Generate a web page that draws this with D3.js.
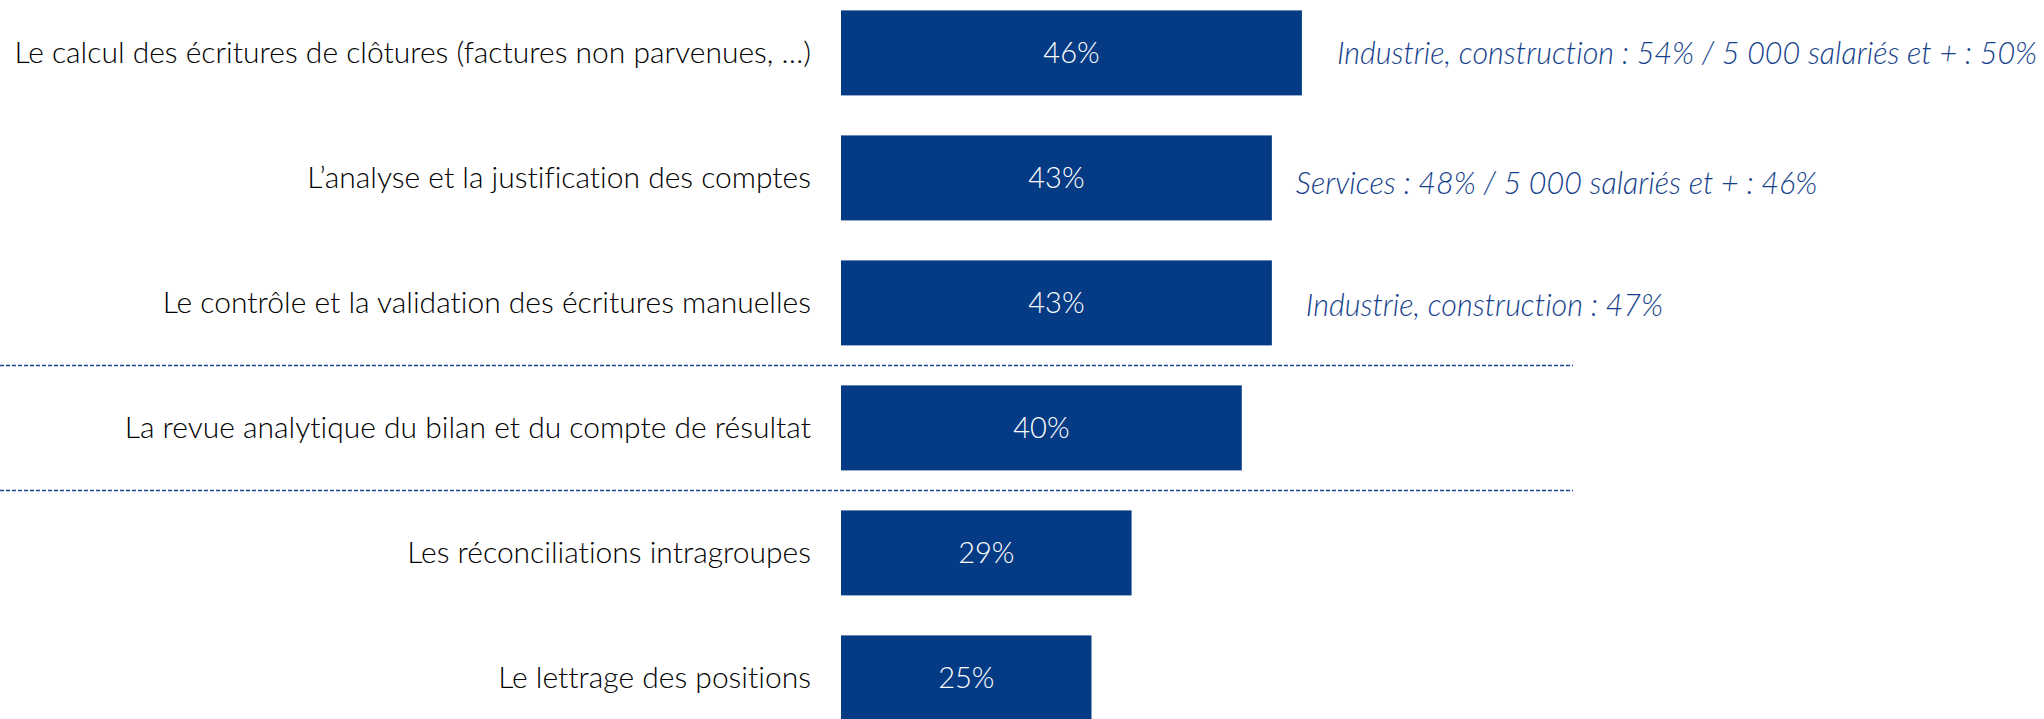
<!DOCTYPE html>
<html>
<head>
<meta charset="utf-8">
<script src="https://cdn.jsdelivr.net/npm/d3@7"></script>
<style>
    body { margin: 0; background: #fff; }
    text { font-variant-ligatures: none; }
    .label { font-family: Lato, sans-serif; font-weight: 300; fill: #000; }
    .value { font-family: Lato, sans-serif; font-weight: 300; fill: #fff; }
    .note { font-family: Lato, sans-serif; font-weight: 300; font-style: italic; fill: #153f8c; }
</style>
</head>
<body>
<script>
// horizontal bar chart, french survey on closing tasks

var categories = [
    "Le calcul des écritures de clôtures (factures non parvenues, …)",
    "L’analyse et la justification des comptes",
    "Le contrôle et la validation des écritures manuelles",
    "La revue analytique du bilan et du compte de résultat",
    "Les réconciliations intragroupes",
    "Le lettrage des positions"
];
var values = [46, 43, 43, 40, 29, 25];
var notes = [
    "Industrie, construction : 54% / 5 000 salariés et + : 50%",
    "Services : 48% / 5 000 salariés et + : 46%",
    "Industrie, construction : 47%",
    "", "", ""
];
var noteOffsets = [35, 24, 34, 0, 0, 0]; //gap after bar end, px
var noteShift = [0, 5, 2, 0, 0, 0]; //small vertical nudge, px
var separators = [3, 4]; //dashed line before these rows

window.onload = drawChart();

function drawChart(){
    var width = 2044,
        height = 719;

    var svg = d3.select("body")
        .append("svg")
        .attr("width", width)
        .attr("height", height);

    //x: 0% sits at bar start
    var x = d3.scaleLinear()
        .domain([0, 100])
        .range([841, 841 + 1002]);

    var y = d3.scaleBand()
        .domain(categories)
        .range([-9.6, 740.4])
        .paddingInner(0.32)
        .paddingOuter(0.16);

    var data = categories.map(function(c, i){
        return {cat: c, value: values[i], note: notes[i], off: noteOffsets[i], shift: noteShift[i]};
    });

    //separator lines
    svg.selectAll(".sep")
        .data(separators)
        .enter()
        .append("line")
        .attr("class", "sep")
        .attr("x1", 0)
        .attr("x2", 1573)
        .attr("y1", function(i){ return y(categories[i]) - (y.step() - y.bandwidth()) / 2; })
        .attr("y2", function(i){ return y(categories[i]) - (y.step() - y.bandwidth()) / 2; })
        .attr("stroke", "#17458f")
        .attr("stroke-width", 1.5)
        .attr("stroke-dasharray", "4,2");

    var row = svg.selectAll(".row")
        .data(data)
        .enter()
        .append("g")
        .attr("class", "row");

    row.append("rect")
        .attr("x", x(0))
        .attr("y", function(d){ return y(d.cat); })
        .attr("width", function(d){ return x(d.value) - x(0); })
        .attr("height", y.bandwidth())
        .attr("fill", "#043b84");

    row.append("text")
        .attr("class", "label")
        .attr("x", x(0) - 30)
        .attr("y", function(d){ return y(d.cat) + y.bandwidth() / 2; })
        .attr("dy", "0.35em")
        .attr("text-anchor", "end")
        .style("font-size", "30px")
        .text(function(d){ return d.cat; });

    row.append("text")
        .attr("class", "value")
        .attr("x", function(d){ return (x(0) + x(d.value)) / 2; })
        .attr("y", function(d){ return y(d.cat) + y.bandwidth() / 2; })
        .attr("dy", "0.35em")
        .attr("text-anchor", "middle")
        .style("font-size", "29px")
        .text(function(d){ return d.value + "%"; });

    row.filter(function(d){ return d.note; })
        .append("text")
        .attr("class", "note")
        .attr("x", function(d){ return x(d.value) + d.off; })
        .attr("y", function(d){ return y(d.cat) + y.bandwidth() / 2 + d.shift; })
        .attr("dy", "0.35em")
        .style("font-size", "30.5px")
        .text(function(d){ return d.note; });
};
</script>
</body>
</html>
